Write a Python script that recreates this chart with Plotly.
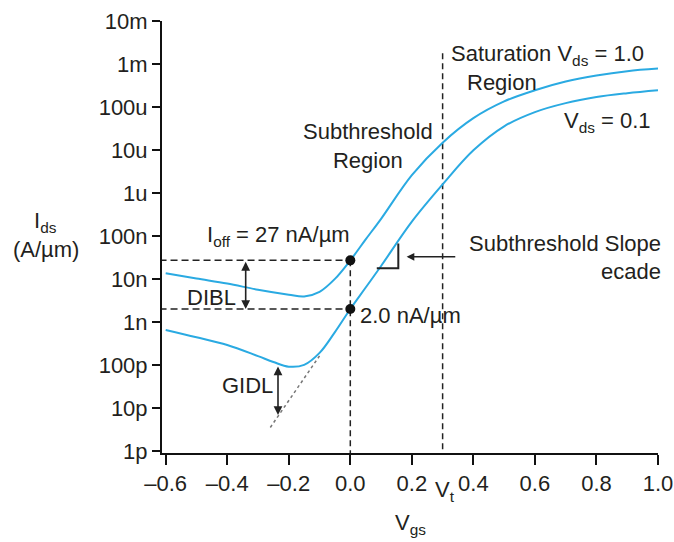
import math
import plotly.graph_objects as go

# ---------------- data ----------------
vgs_vds_1_0 = [-0.6, -0.5, -0.4, -0.3, -0.2, -0.15, -0.1, -0.05, 0.0, 0.05, 0.1,
               0.2, 0.3, 0.4, 0.5, 0.6, 0.7, 0.8, 0.9, 1.0]
ids_vds_1_0 = [1.35e-8, 1.02e-8, 7.8e-9, 5.6e-9, 4.3e-9, 3.9e-9, 5.0e-9, 1.0e-8, 2.7e-8,
               8.3e-8, 2.5e-7, 2.6e-6, 1.48e-5, 5.5e-5, 1.35e-4, 2.45e-4, 3.9e-4,
               5.4e-4, 6.8e-4, 7.8e-4]

vgs_vds_0_1 = [-0.6, -0.5, -0.4, -0.3, -0.25, -0.2, -0.15, -0.1, -0.05, 0.0, 0.05,
               0.1, 0.2, 0.3, 0.4, 0.5, 0.6, 0.7, 0.8, 0.9, 1.0]
ids_vds_0_1 = [6.5e-10, 4.4e-10, 2.9e-10, 1.6e-10, 1.17e-10, 9.1e-11, 1.0e-10, 1.9e-10,
               5.8e-10, 2.0e-9, 6.3e-9, 2.0e-8, 2.15e-7, 1.58e-6, 9.8e-6, 3.55e-5,
               7.6e-5, 1.23e-4, 1.7e-4, 2.09e-4, 2.45e-4]

ioff_vds_1_0 = 27e-9
ioff_vds_0_1 = 2.0e-9
vt = 0.3
vt_line_top = 1.78e-3

gidl_extrap_vgs = [-0.26, -0.1]
gidl_extrap_ids = [3.5e-12, 1.62e-10]

dibl_vgs = -0.34
gidl_vgs = -0.235
gidl_top, gidl_bottom = 1.0e-10, 6.8e-12

slope_mark_vgs = [0.086, 0.156, 0.156]
slope_mark_ids = [1.76e-8, 1.76e-8, 6.7e-8]
slope_arrow_vgs = [0.346, 0.183]
slope_arrow_ids = 3.27e-8

x_ticks = [-0.6, -0.4, -0.2, 0.0, 0.2, 0.4, 0.6, 0.8, 1.0]
x_ticktext = ["\u20130.6", "\u20130.4", "\u20130.2", "0.0", "0.2", "0.4", "0.6", "0.8", "1.0"]
y_ticks = [1e-2, 1e-3, 1e-4, 1e-5, 1e-6, 1e-7, 1e-8, 1e-9, 1e-10, 1e-11, 1e-12]
y_ticktext = ["10m", "1m", "100u", "10u", "1u", "100n", "10n", "1n", "100p", "10p", "1p"]

# ---------------- style ----------------
FONT = "Liberation Sans, Arial, sans-serif"
TXT = "#231f20"
BLUE = "#2aaae2"
FS = 22

fig = go.Figure()

# reference dashed lines
fig.add_trace(go.Scatter(x=[-0.62, 0.0], y=[ioff_vds_1_0, ioff_vds_1_0], mode="lines",
                         line=dict(color="#222", width=1.5, dash="7px,4px"), hoverinfo="skip"))
fig.add_trace(go.Scatter(x=[-0.62, 0.0], y=[ioff_vds_0_1, ioff_vds_0_1], mode="lines",
                         line=dict(color="#222", width=1.5, dash="7px,4px"), hoverinfo="skip"))
fig.add_trace(go.Scatter(x=[0.0, 0.0], y=[ioff_vds_1_0, 8e-13], mode="lines",
                         line=dict(color="#222", width=1.5, dash="6px,4px"), hoverinfo="skip"))
fig.add_trace(go.Scatter(x=[vt, vt], y=[vt_line_top, 8e-13], mode="lines",
                         line=dict(color="#222", width=1.5, dash="6px,4px"), hoverinfo="skip"))
# GIDL extrapolation
fig.add_trace(go.Scatter(x=gidl_extrap_vgs, y=gidl_extrap_ids, mode="lines",
                         line=dict(color="#777", width=1.5, dash="3px,3px"), hoverinfo="skip"))

# curves
fig.add_trace(go.Scatter(x=vgs_vds_1_0, y=ids_vds_1_0, mode="lines", line_shape="spline",
                         line=dict(color=BLUE, width=2), name="Vds = 1.0"))
fig.add_trace(go.Scatter(x=vgs_vds_0_1, y=ids_vds_0_1, mode="lines", line_shape="spline",
                         line=dict(color=BLUE, width=2), name="Vds = 0.1"))

# slope marker
fig.add_trace(go.Scatter(x=slope_mark_vgs, y=slope_mark_ids, mode="lines",
                         line=dict(color="#222", width=2), hoverinfo="skip"))

# Ioff dots
fig.add_trace(go.Scatter(x=[0.0, 0.0], y=[ioff_vds_1_0, ioff_vds_0_1], mode="markers",
                         marker=dict(color="#111", size=10), hoverinfo="skip"))

L = math.log10
ann = []


def dbl_arrow(x, y0, y1):
    ann.append(dict(x=x, y=L(y1), ax=x, ay=L(y0), xref="x", yref="y", axref="x", ayref="y",
                    text="", showarrow=True, arrowhead=2, arrowsize=1.1, arrowwidth=1.6,
                    arrowcolor="#222", arrowside="end+start", standoff=0, startstandoff=0))


dbl_arrow(dibl_vgs, ioff_vds_1_0, ioff_vds_0_1)
dbl_arrow(gidl_vgs, gidl_top, gidl_bottom)
ann.append(dict(x=slope_arrow_vgs[1], y=L(slope_arrow_ids), ax=slope_arrow_vgs[0],
                ay=L(slope_arrow_ids), xref="x", yref="y", axref="x", ayref="y", text="",
                showarrow=True, arrowhead=2, arrowsize=1.1, arrowwidth=1.4, arrowcolor="#222",
                standoff=0))


def txt(text, x, y, xanchor="left", xref="x", yref="y", align="left"):
    ann.append(dict(text=text, x=x, y=y, xref=xref, yref=yref, xanchor=xanchor,
                    yanchor="middle", showarrow=False, align=align,
                    font=dict(family=FONT, size=FS, color=TXT)))


txt("Saturation V<sub>ds</sub> = 1.0", 0.321, -2.80)
txt("Region", 0.373, -3.42)
txt("V<sub>ds</sub> = 0.1", 0.985, -4.36, xanchor="right")
txt("Subthreshold<br>Region", 0.058, -4.90, xanchor="center", align="center")
txt("I<sub>off</sub> = 27 nA/\u00b5m", -0.472, -6.99)
txt("DIBL", -0.537, -8.44)
txt("2.0 nA/\u00b5m", 0.025, -8.86)
txt("GIDL", -0.4235, -10.47)
txt("Subthreshold Slope", 1.0101, 0.486, xanchor="right", xref="paper", yref="paper")
txt("ecade", 1.0101, 0.4205, xanchor="right", xref="paper", yref="paper")
txt("V<sub>t</sub>", 0.269, -0.088, yref="paper")
txt("V<sub>gs</sub>", 0.197, -0.165, xanchor="center", yref="paper")
txt("I<sub>ds</sub>", -0.234, 0.535, xanchor="center", xref="paper", yref="paper")
txt("(A/\u00b5m)", -0.234, 0.470, xanchor="center", xref="paper", yref="paper")

fig.update_layout(
    width=674, height=542,
    margin=dict(l=162, r=16, t=21, b=89, autoexpand=False),
    plot_bgcolor="white", paper_bgcolor="white",
    showlegend=False,
    annotations=ann,
    font=dict(family=FONT, size=FS, color=TXT),
)
fig.update_xaxes(range=[-0.612, 1.0], tickvals=x_ticks, ticktext=x_ticktext,
                 showgrid=False, zeroline=False, showline=True, linecolor="#111", linewidth=2,
                 ticks="outside", ticklen=10, tickwidth=2, tickcolor="#111", automargin=False,
                 tickfont=dict(family=FONT, size=FS, color=TXT))
fig.update_yaxes(type="log", range=[-12.05, -2], tickvals=y_ticks, ticktext=y_ticktext,
                 showgrid=False, zeroline=False, showline=True, linecolor="#111", linewidth=2,
                 ticks="outside", ticklen=8, tickwidth=2, tickcolor="#111", automargin=False,
                 tickfont=dict(family=FONT, size=FS, color=TXT))

fig.write_html("out.html")
